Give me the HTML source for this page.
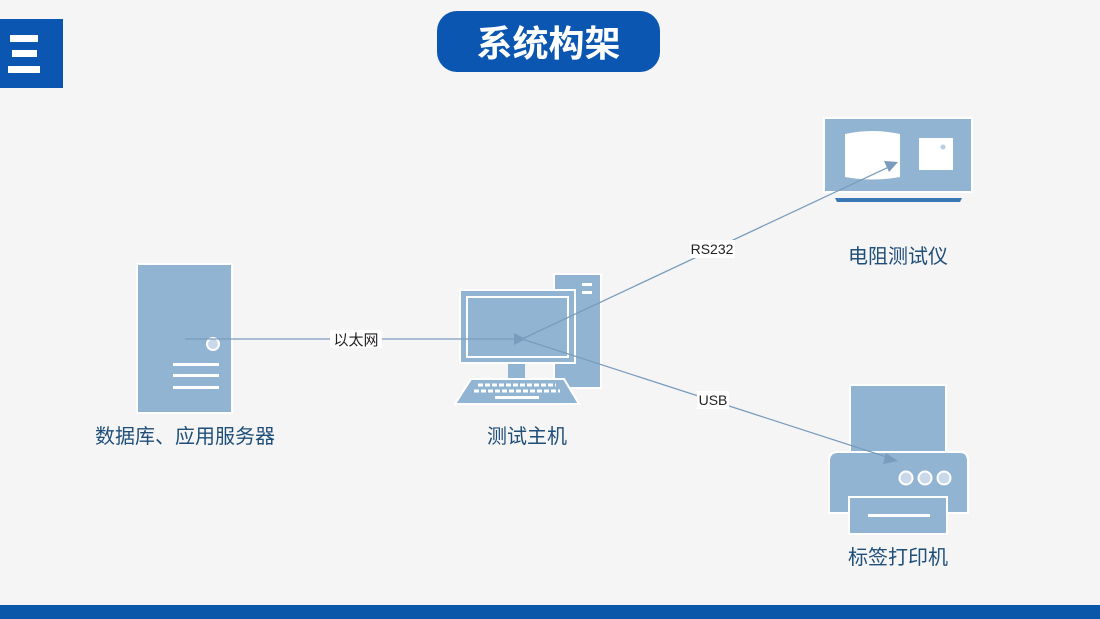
<!DOCTYPE html>
<html><head><meta charset="utf-8"><style>
html,body{margin:0;padding:0;background:#f5f5f5;}
svg{display:block}
text{font-family:"Liberation Sans","Noto Sans CJK SC",sans-serif;}
</style></head><body>
<svg width="1100" height="619" viewBox="0 0 1100 619" xmlns="http://www.w3.org/2000/svg">
<rect width="1100" height="619" fill="#f5f5f5"/>
<rect x="0" y="605" width="1100" height="14" fill="#0a56a8"/>
<!-- menu icon -->
<rect x="0" y="19" width="63" height="69" fill="#0a56b0"/>
<rect x="10" y="35" width="28" height="7" fill="#fff"/>
<rect x="12" y="50" width="25" height="7" fill="#fff"/>
<rect x="8" y="66" width="32" height="7" fill="#fff"/>
<!-- title -->
<rect x="437" y="11" width="223" height="61" rx="20" fill="#0a56b0"/>
<text x="548.5" y="56" font-size="36" font-weight="bold" fill="#fff" text-anchor="middle">系统构架</text>
<!-- server -->
<rect x="137" y="264" width="95" height="149" fill="#92b4d3" stroke="#fff" stroke-width="2"/>
<circle cx="213" cy="344" r="6" fill="#c9d9ea" stroke="#fff" stroke-width="2"/>
<rect x="173" y="363" width="46" height="3" fill="#fff"/>
<rect x="173" y="374" width="46" height="3" fill="#fff"/>
<rect x="173" y="386" width="46" height="3" fill="#fff"/>
<!-- computer -->
<rect x="554" y="274" width="47" height="114" fill="#92b4d3" stroke="#fff" stroke-width="2"/>
<rect x="582" y="283" width="10" height="3" fill="#fff"/>
<rect x="582" y="291" width="10" height="3" fill="#fff"/>
<rect x="460" y="290" width="115" height="73" fill="#92b4d3" stroke="#fff" stroke-width="2"/>
<rect x="467" y="297" width="101" height="60" fill="#92b4d3" stroke="#fff" stroke-width="2"/>
<rect x="508" y="364" width="17" height="14" fill="#92b4d3"/>
<polygon points="471,379 564,379 579,404 455,404" fill="#92b4d3" stroke="#fff" stroke-width="2"/>
<g stroke="#fff" stroke-width="3" stroke-dasharray="5,2">
<line x1="478" y1="385" x2="556" y2="385"/>
<line x1="474" y1="391" x2="560" y2="391"/>
</g>
<rect x="495" y="396" width="44" height="3" fill="#fff"/>
<!-- resistance tester -->
<rect x="824" y="118" width="148" height="74" fill="#92b4d3" stroke="#fff" stroke-width="2"/>
<path d="M845,134 Q872,128 900,134 L900,177 Q872,182 845,177 Z" fill="#fff"/>
<rect x="919" y="138" width="34" height="32" fill="#fff"/>
<circle cx="943" cy="147" r="2.5" fill="#b9cde2"/>
<polygon points="835,198 962,198 960,202 837,202" fill="#3a78b5"/>
<!-- printer -->
<rect x="850" y="385" width="96" height="72" fill="#92b4d3" stroke="#fff" stroke-width="2"/>
<path d="M829,513 L829,461 Q829,452 838,452 L960,452 Q968,452 968,461 L968,513 Z" fill="#92b4d3" stroke="#fff" stroke-width="2"/>
<circle cx="906" cy="478" r="6.5" fill="#c9d9ea" stroke="#fff" stroke-width="2"/>
<circle cx="925" cy="478" r="6.5" fill="#c9d9ea" stroke="#fff" stroke-width="2"/>
<circle cx="944" cy="478" r="6.5" fill="#c9d9ea" stroke="#fff" stroke-width="2"/>
<rect x="849" y="497" width="98" height="37" fill="#92b4d3" stroke="#fff" stroke-width="2"/>
<rect x="868" y="514" width="62" height="3" fill="#fff"/>
<!-- connectors -->
<g stroke="#7a9cbc" stroke-width="1.3" fill="none">
<line x1="185" y1="339" x2="518" y2="339"/>
<line x1="522" y1="339" x2="893" y2="165"/>
<line x1="522" y1="339" x2="893" y2="459"/>
</g>
<polygon points="526,339 514,333 514,345" fill="#7a9cbc"/>
<polygon points="898,162 884,161 889,172" fill="#7a9cbc"/>
<polygon points="898,461 886,453 883,464" fill="#7a9cbc"/>
<!-- edge labels -->
<rect x="330" y="330" width="52" height="18" fill="#fff"/>
<text x="356" y="345" font-size="15" fill="#222" text-anchor="middle">以太网</text>
<rect x="690" y="240" width="45" height="18" fill="#fff"/>
<text x="712" y="254" font-size="14" fill="#222" text-anchor="middle">RS232</text>
<rect x="697" y="391" width="32" height="18" fill="#fff"/>
<text x="713" y="405" font-size="14" fill="#222" text-anchor="middle">USB</text>
<!-- node labels -->
<g font-size="20" fill="#1f4e79" text-anchor="middle">
<text x="185" y="443">数据库、应用服务器</text>
<text x="527" y="443">测试主机</text>
<text x="898" y="263">电阻测试仪</text>
<text x="898" y="564">标签打印机</text>
</g>
</svg>
</body></html>
